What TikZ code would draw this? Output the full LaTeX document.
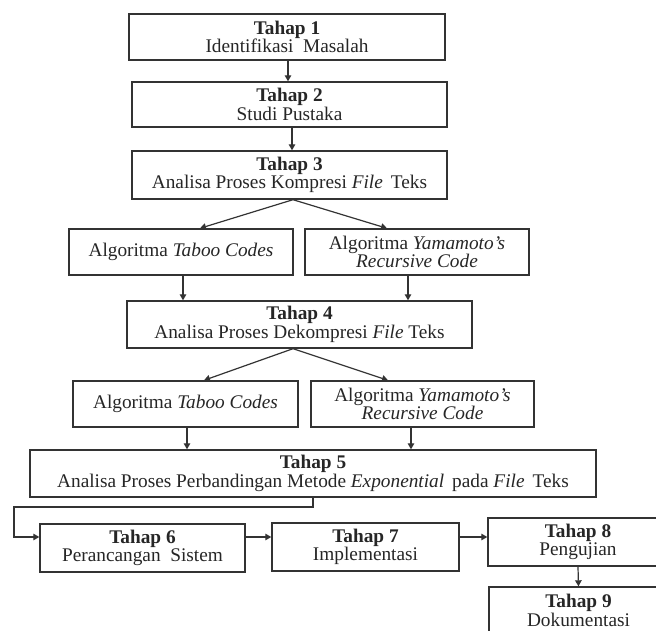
\documentclass[tikz,border=0pt]{standalone}
\usepackage{fontspec}
\setmainfont{Liberation Serif}
\usetikzlibrary{arrows.meta}
\definecolor{ink}{HTML}{262626}
\definecolor{frame}{HTML}{333333}
\begin{document}
\begin{tikzpicture}[x=1pt,y=-1pt,
  box/.style={draw=frame, line width=1.4pt, fill=white, align=center, inner sep=0pt,
    text=ink, font=\fontsize{19.3}{18.5}\selectfont},
  arr/.style={draw=frame, line width=1.2pt, -{Triangle[length=6pt,width=6.5pt]}},
  ]
\useasboundingbox (0,0) rectangle (656,631);
\clip (0,0) rectangle (656,631);
\fill[white] (0,0) rectangle (656,631);

\node[box, minimum width=316pt, minimum height=46pt] (t1) at (287,37) {\textbf{Tahap 1}\\Identifikasi\ \ Masalah};
\node[box, minimum width=315pt, minimum height=45pt] (t2) at (289.5,104.5) {\textbf{Tahap 2}\\Studi Pustaka};
\node[box, minimum width=315pt, minimum height=48pt] (t3) at (289.5,175) {\textbf{Tahap 3}\\Analisa Proses Kompresi \textit{File}\, Teks};
\node[box, minimum width=224pt, minimum height=46pt] (a1) at (181,252) {Algoritma \textit{Taboo Codes}};
\node[box, minimum width=224pt, minimum height=46pt] (b1) at (417,252) {Algoritma \textit{Yamamoto's}\\\textit{Recursive Code}};
\node[box, minimum width=345pt, minimum height=47pt] (t4) at (299.5,324.5) {\textbf{Tahap 4}\\Analisa Proses Dekompresi \textit{File} Teks};
\node[box, minimum width=225pt, minimum height=46pt] (a2) at (185.5,404) {Algoritma \textit{Taboo Codes}};
\node[box, minimum width=223pt, minimum height=46pt] (b2) at (422.5,404) {Algoritma \textit{Yamamoto's}\\\textit{Recursive Code}};
\node[box, minimum width=566pt, minimum height=47pt] (t5) at (313,473.5) {\textbf{Tahap 5}\\Analisa Proses Perbandingan Metode \textit{Exponential}\, pada \textit{File}\, Teks};
\node[box, minimum width=205pt, minimum height=48pt] (t6) at (142.5,548) {\textbf{Tahap 6}\\Perancangan\ \ Sistem};
\node[box, minimum width=187pt, minimum height=48pt] (t7) at (365.5,547) {\textbf{Tahap 7}\\Implementasi};
\node[box, minimum width=180pt, minimum height=48pt] (t8) at (578,542) {\textbf{Tahap 8}\\Pengujian};
\node[box, minimum width=179pt, minimum height=47pt] (t9) at (578.5,610.5) {\textbf{Tahap 9}\\Dokumentasi};

\coordinate (elb) at (14,507);

\draw[arr] ([xshift=1pt]t1.south) -- ([xshift=1pt]t1.south |- t2.north);
\draw[arr] ([xshift=2.5pt]t2.south) -- ([xshift=2.5pt]t2.south |- t3.north);
\draw[arr] ([xshift=3.5pt]t3.south) -- ([xshift=19pt]a1.north);
\draw[arr] ([xshift=3.5pt]t3.south) -- ([xshift=-30pt]b1.north);
\draw[arr] ([xshift=2pt]a1.south) -- ([xshift=2pt]a1.south |- t4.north);
\draw[arr] ([xshift=-9pt]b1.south) -- ([xshift=-9pt]b1.south |- t4.north);
\draw[arr] ([xshift=-6.5pt]t4.south) -- ([xshift=18.5pt]a2.north);
\draw[arr] ([xshift=-6.5pt]t4.south) -- ([xshift=-34.5pt]b2.north);
\draw[arr] ([xshift=1.5pt]a2.south) -- ([xshift=1.5pt]a2.south |- t5.north);
\draw[arr] ([xshift=-11.5pt]b2.south) -- ([xshift=-11.5pt]b2.south |- t5.north);
\draw[arr] (t5.south) |- (elb) |- ([yshift=11pt]t6.west);
\draw[arr] ([yshift=11pt]t6.east) -- ([yshift=11pt]t6.east -| t7.west);
\draw[arr] ([yshift=10pt]t7.east) -- ([yshift=10pt]t7.east -| t8.west);
\draw[arr] (t8.south) -- (t9.north);
\end{tikzpicture}
\end{document}
